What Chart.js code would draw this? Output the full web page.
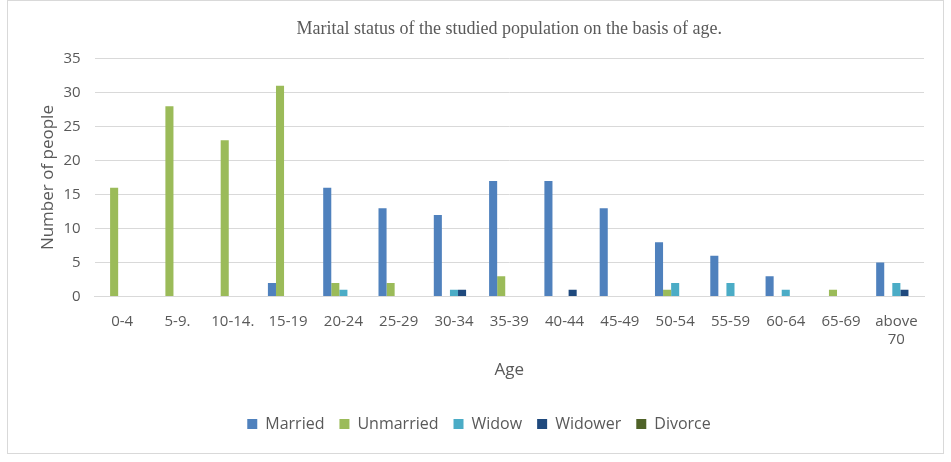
<!DOCTYPE html>
<html>
<head>
<meta charset="utf-8">
<script src="https://cdn.jsdelivr.net/npm/chart.js@4"></script>
<style>
  html, body { margin: 0; padding: 0; background: #fff; }
  #box { position: absolute; left: 7px; top: 0px; width: 935px; height: 452px; border: 1px solid #d9d9d9; }
  #maritalAge { display: block; }
</style>
</head>
<body>
<div id="box"><canvas id="maritalAge" width="935" height="452"></canvas></div>
<script>
const ageGroups = ['0-4', '5-9.', '10-14.', '15-19', '20-24', '25-29', '30-34', '35-39', '40-44', '45-49', '50-54', '55-59', '60-64', '65-69', ['above', '70']]
const married   = [0, 0, 0, 2, 16, 13, 12, 17, 17, 13, 8, 6, 3, 0, 5]
const unmarried = [16, 28, 23, 31, 2, 2, 0, 3, 0, 0, 1, 0, 0, 1, 0]
const widow     = [0, 0, 0, 0, 1, 0, 1, 0, 0, 0, 2, 2, 1, 0, 2]
const widower   = [0, 0, 0, 0, 0, 0, 1, 0, 1, 0, 0, 0, 0, 0, 1]
const divorce   = [0, 0, 0, 0, 0, 0, 0, 0, 0, 0, 0, 0, 0, 0, 0]

const tickColor = '#595959'
const sans = '"Open Sans", sans-serif'
const bar = (label, data, color) => ({
    label: label,
    data: data,
    backgroundColor: color,
    borderColor: color,
    barPercentage: 1,
    categoryPercentage: 0.73
})

new Chart(document.getElementById('maritalAge'), {
    type: 'bar',
    data: {
        labels: ageGroups,
        datasets: [
            bar('Married', married, '#4f81bd'),
            bar('Unmarried', unmarried, '#9bbb59'),
            bar('Widow', widow, '#4bacc6'),
            bar('Widower', widower, '#1f497d'),
            bar('Divorce', divorce, '#4f6228')
        ]
    },
    options: {
        responsive: false,
        animation: false,
        layout: { padding: { left: 26, right: 19, top: 8, bottom: 11 } },
        plugins: {
            title: {
                display: true,
                fullSize: false,
                text: 'Marital status of the studied population on the basis of age.',
                color: '#595959',
                font: { family: '"Liberation Serif", "Times New Roman", serif', size: 18, weight: 'normal' },
                padding: { top: 9, bottom: 19 }
            },
            legend: {
                position: 'bottom',
                labels: {
                    color: tickColor,
                    font: { family: sans, size: 16 },
                    boxWidth: 10,
                    boxHeight: 10,
                    padding: 15
                }
            },
            tooltip: { enabled: false }
        },
        scales: {
            x: {
                grid: { display: false },
                border: { color: '#d9d9d9' },
                ticks: { color: tickColor, font: { family: sans, size: 15 }, maxRotation: 0, padding: 8 },
                title: { display: true, text: 'Age', color: tickColor, font: { family: sans, size: 17 }, padding: { top: 3, bottom: 21 } }
            },
            y: {
                min: 0,
                max: 35,
                ticks: { stepSize: 5, color: tickColor, font: { family: sans, size: 15 }, padding: 14 },
                grid: { color: '#d9d9d9', drawTicks: false },
                border: { display: false },
                title: { display: true, text: 'Number of people', color: tickColor, font: { family: sans, size: 17 }, padding: { top: 4, bottom: -9 } }
            }
        }
    }
})
</script>
</body>
</html>
